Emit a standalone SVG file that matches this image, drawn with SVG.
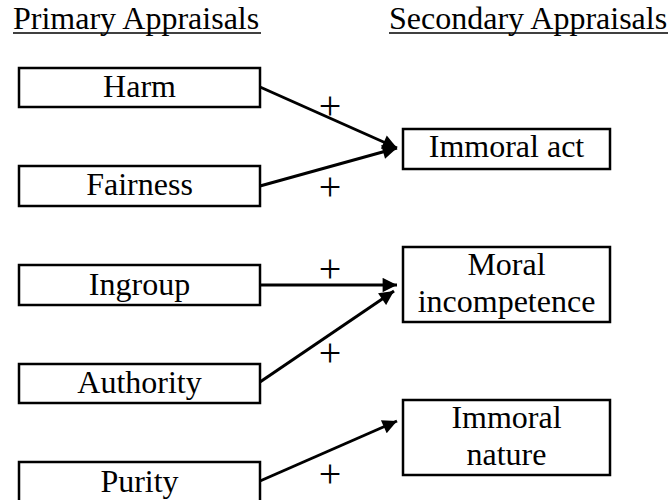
<svg xmlns="http://www.w3.org/2000/svg" width="671" height="500" viewBox="0 0 671 500">
<defs>
<style>
text{font-family:"Liberation Serif","Times New Roman",serif;font-size:32px;fill:#000}
.c{text-anchor:middle}
.box{fill:#fff;stroke:#000;stroke-width:2.5}
.edge{stroke:#000;stroke-width:3;fill:none;marker-end:url(#ah)}
.plus{font-size:40px;text-anchor:middle}
.ul{stroke:#000;stroke-width:1.5}
</style>
<marker id="ah" viewBox="0 0 10 10" refX="10" refY="5" markerWidth="5.7" markerHeight="4.8" markerUnits="strokeWidth" orient="auto">
<path d="M0,0 L10,5 L0,10 z" fill="#000"/>
</marker>
</defs>
<g id="headers">
<text x="13" y="29">Primary Appraisals</text>
<line class="ul" x1="13" y1="33" x2="261" y2="33"/>
<text x="389" y="29">Secondary Appraisals</text>
<line class="ul" x1="389" y1="33" x2="668" y2="33"/>
</g>
<g id="harm"><rect class="box" x="19" y="68" width="241" height="39"/><text class="c" x="139.5" y="97">Harm</text></g>
<g id="fairness"><rect class="box" x="19" y="166" width="241" height="40"/><text class="c" x="139.5" y="195">Fairness</text></g>
<g id="ingroup"><rect class="box" x="19" y="265" width="241" height="40"/><text class="c" x="139.5" y="295">Ingroup</text></g>
<g id="authority"><rect class="box" x="19" y="364" width="241" height="39"/><text class="c" x="139.5" y="393">Authority</text></g>
<g id="purity"><rect class="box" x="19" y="462" width="241" height="40"/><text class="c" x="139.5" y="492">Purity</text></g>
<g id="immoral-act"><rect class="box" x="403" y="129" width="207" height="40"/><text class="c" x="506.5" y="157">Immoral act</text></g>
<g id="moral-incompetence"><rect class="box" x="403" y="247" width="207" height="75"/><text class="c" x="506.5" y="275">Moral</text><text class="c" x="506.5" y="312">incompetence</text></g>
<g id="immoral-nature"><rect class="box" x="403" y="400" width="207" height="75"/><text class="c" x="506.5" y="428">Immoral</text><text class="c" x="506.5" y="465">nature</text></g>
<g id="connectors">
<line class="edge" x1="260" y1="87" x2="397" y2="148"/>
<line class="edge" x1="260" y1="186" x2="397" y2="148"/>
<line class="edge" x1="260" y1="285" x2="397" y2="285"/>
<line class="edge" x1="260" y1="382" x2="394" y2="291"/>
<line class="edge" x1="260" y1="481" x2="397" y2="421"/>
<text class="plus" x="330" y="118.5">+</text>
<text class="plus" x="330" y="199.5">+</text>
<text class="plus" x="330" y="281.5">+</text>
<text class="plus" x="330" y="365.5">+</text>
<text class="plus" x="330" y="486.5">+</text>
</g>
</svg>
